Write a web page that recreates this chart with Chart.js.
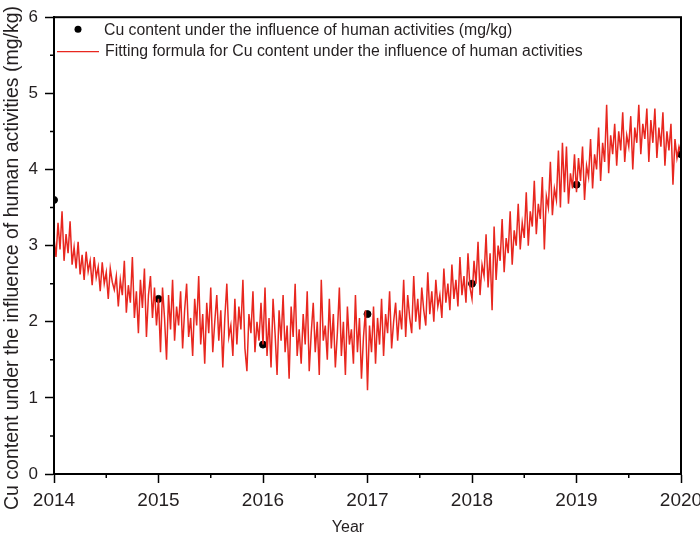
<!DOCTYPE html>
<html>
<head>
<meta charset="utf-8">
<script src="https://cdn.jsdelivr.net/npm/chart.js@4.4.0/dist/chart.umd.min.js"></script>
<style>
  body { margin: 0; background: #fff; }
</style>
</head>
<body>
<canvas id="cuChart" width="700" height="535"></canvas>
<script>
// measured points (one per year)
const dotYears = [2014, 2015, 2016, 2017, 2018, 2019, 2020];
const dotValues = [3.6, 2.3, 1.7, 2.1, 2.5, 3.8, 4.2];

// fitted curve (52 per year)
const fit2014 = [
  3.10, 2.85, 3.30, 2.95, 3.45, 2.80, 3.15, 2.90, 3.32, 2.75,
  2.98, 2.70, 3.05, 2.62, 2.88, 2.55, 2.92, 2.66, 2.80, 2.48,
  2.85, 2.58, 2.72, 2.40, 2.78, 2.50, 2.65, 2.30, 2.70, 2.52,
  2.42, 2.60, 2.20, 2.55, 2.35, 2.80, 2.12, 2.48, 2.25, 2.85,
  2.05, 2.40, 1.85, 2.55, 2.18, 2.70, 1.80, 2.35, 2.60, 2.05,
  2.45, 1.95
];
const fit2015 = [
  2.30, 1.60, 2.45, 2.05, 1.50, 2.35, 1.90, 2.55, 1.75, 2.20,
  1.95, 2.40, 1.65, 2.15, 2.50, 1.80, 2.05, 1.55, 2.30, 1.95,
  2.60, 1.70, 2.10, 1.45, 2.25, 1.85, 2.45, 1.60, 2.00, 2.35,
  1.75, 2.15, 1.40, 2.05, 2.50, 1.80, 1.95, 1.55, 2.30, 1.70,
  2.20, 1.90, 2.55, 1.65, 1.35, 2.10, 1.85, 2.40, 1.60, 2.00,
  1.75, 2.25
];
const fit2016 = [
  1.70, 2.45, 1.55, 2.05, 1.40, 2.30, 1.85, 1.30, 2.15, 1.75,
  2.35, 1.60, 1.95, 1.25, 2.20, 1.80, 2.50, 1.55, 1.90, 1.45,
  2.10, 1.70, 2.40, 1.35, 1.85, 2.25, 1.60, 2.00, 1.30, 2.55,
  1.75, 1.95, 1.50, 2.30, 1.65, 2.10, 1.40, 1.85, 2.45, 1.55,
  2.00, 1.30, 2.20, 1.70, 1.90, 1.45, 2.35, 1.60, 2.05, 1.25,
  1.80, 2.15
];
const fit2017 = [
  1.10, 1.95, 1.60, 2.20, 1.45, 2.05, 1.70, 2.30, 1.55, 2.10,
  1.85, 2.40, 1.65, 2.00, 2.25, 1.75, 2.15, 1.90, 2.55, 1.80,
  2.35, 2.05, 1.85, 2.60, 2.00, 2.30, 1.90, 2.45, 2.15, 1.95,
  2.65, 2.10, 2.40, 2.00, 2.55, 2.20, 2.35, 2.05, 2.70, 2.25,
  2.50, 2.15, 2.75, 2.30, 2.55, 2.20, 2.85, 2.35, 2.60, 2.25,
  2.90, 2.45
];
const fit2018 = [
  2.30, 2.80, 2.50, 3.05, 2.35, 2.75, 2.60, 3.15, 2.45, 2.90,
  2.15, 3.25, 2.55, 3.00, 2.80, 3.35, 2.65, 3.10, 2.90, 3.45,
  2.75, 3.20, 3.00, 3.55, 2.95, 3.30, 3.10, 3.70, 3.00, 3.45,
  3.25, 3.85, 3.15, 3.55, 3.35, 3.90, 2.95, 3.65, 3.50, 4.10,
  3.40, 3.75, 3.60, 4.25, 3.50, 4.35, 3.70, 4.30, 3.55, 3.95,
  3.75, 4.20
];
const fit2019 = [
  3.70, 4.15, 3.85, 4.30, 3.60, 4.05, 3.90, 4.40, 3.75, 4.20,
  4.00, 4.55, 3.85, 4.35, 4.10, 4.85, 3.95, 4.45, 4.20, 4.60,
  4.05, 4.50, 4.25, 4.75, 4.10, 4.45, 4.30, 4.70, 4.00, 4.55,
  4.35, 4.85, 4.20, 4.60, 4.40, 4.80, 4.10, 4.65, 4.35, 4.80,
  4.15, 4.55, 4.30, 4.75, 4.05, 4.50, 4.25, 4.60, 3.80, 4.40,
  4.15, 4.30
];
const fitEnd = [4.20];

const yTickMax = 6;
const xTickMin = 2014;
const xTickMax = 2020;

const fitValues = [].concat(fit2014, fit2015, fit2016, fit2017, fit2018, fit2019, fitEnd);
const fitPoints = fitValues.map((v, i) => ({ x: xTickMin + i / 52, y: v }));
const dotPoints = dotYears.map((yr, i) => ({ x: yr, y: dotValues[i] }));

const red = "#e8271f";
const txt = "#231f20";
const fontFamily = "'Liberation Sans', Arial, sans-serif";

Chart.defaults.font.family = fontFamily;
Chart.defaults.color = txt;

// box around the plot, short minor ticks, axis titles and the legend inside the plot
const framePlugin = {
  id: "frame",
  afterDraw(chart) {
    const { ctx, chartArea: a, scales } = chart;
    ctx.save();
    ctx.strokeStyle = "#000";
    ctx.lineWidth = 2;
    ctx.strokeRect(a.left, a.top, a.right - a.left, a.bottom - a.top);

    // minor ticks
    ctx.lineWidth = 1.5;
    ctx.beginPath();
    for (let v = xTickMin + 0.5; v < xTickMax; v += 1) {
      const px = scales.x.getPixelForValue(v);
      ctx.moveTo(px, a.bottom);
      ctx.lineTo(px, a.bottom + 4);
    }
    for (let v = 0.5; v < yTickMax; v += 1) {
      const py = scales.y.getPixelForValue(v);
      ctx.moveTo(a.left, py);
      ctx.lineTo(a.left - 4, py);
    }
    ctx.stroke();

    // axis titles
    ctx.fillStyle = txt;
    ctx.textAlign = "center";
    ctx.textBaseline = "middle";
    ctx.font = "16px " + fontFamily;
    ctx.fillText("Year", 348, 528);
    ctx.save();
    ctx.translate(13, 258);
    ctx.rotate(-Math.PI / 2);
    ctx.font = "19.5px " + fontFamily;
    ctx.fillText("Cu content under the influence of human activities (mg/kg)", 0, 0);
    ctx.restore();

    // legend
    ctx.textAlign = "left";
    ctx.font = "15.8px " + fontFamily;
    ctx.fillStyle = "#000";
    ctx.beginPath();
    ctx.arc(a.left + 24, a.top + 12, 3.5, 0, Math.PI * 2);
    ctx.fill();
    ctx.fillStyle = txt;
    ctx.fillText("Cu content under the influence of human activities (mg/kg)", a.left + 50, a.top + 13);

    ctx.strokeStyle = red;
    ctx.lineWidth = 1.2;
    ctx.beginPath();
    ctx.moveTo(a.left + 3, a.top + 34.5);
    ctx.lineTo(a.left + 45, a.top + 34.5);
    ctx.stroke();
    ctx.fillText("Fitting formula for Cu content under the influence of human activities", a.left + 51, a.top + 34);
    ctx.restore();
  },
};

const ctx = document.getElementById("cuChart").getContext("2d");
const cuChart = new Chart(ctx, {
  type: "scatter",
  data: {
    datasets: [
      {
        label: "Cu content under the influence of human activities (mg/kg)",
        data: dotPoints,
        backgroundColor: "#000",
        borderColor: "#000",
        pointRadius: 3.5,
        order: 1,
      },
      {
        type: "line",
        label: "Fitting formula for Cu content under the influence of human activities",
        data: fitPoints,
        borderColor: red,
        borderWidth: 1.5,
        pointRadius: 0,
        tension: 0,
        clip: 0,
        order: 0,
      },
    ],
  },
  options: {
    responsive: false,
    animation: false,
    layout: { padding: { top: 13, right: 0, left: 0, bottom: 0 } },
    plugins: {
      legend: { display: false },
      tooltip: { enabled: false },
    },
    scales: {
      x: {
        type: "linear",
        min: xTickMin,
        max: xTickMax,
        afterFit: (scale) => {
          scale.height = 61;
          scale.paddingRight = 19;
          scale.paddingLeft = 0;
        },
        border: { color: "#000", width: 2 },
        grid: {
          drawOnChartArea: false,
          tickLength: 9,
          tickWidth: 1.5,
          tickColor: (c) => (Number.isInteger(c.tick.value) ? "#000" : "rgba(0,0,0,0)"),
        },
        ticks: {
          stepSize: 0.5,
          autoSkip: false,
          maxRotation: 0,
          padding: 6,
          font: { size: 19 },
          callback: (v) => (Number.isInteger(v) ? String(v) : ""),
        },
      },
      y: {
        min: 0,
        max: yTickMax,
        afterFit: (scale) => { scale.width = 54; },
        border: { color: "#000", width: 2 },
        grid: {
          drawOnChartArea: false,
          tickLength: 9,
          tickWidth: 1.5,
          tickColor: (c) => (Number.isInteger(c.tick.value) ? "#000" : "rgba(0,0,0,0)"),
        },
        ticks: {
          stepSize: 0.5,
          padding: 7,
          font: { size: 17 },
          callback: (v) => (Number.isInteger(v) ? String(v) : ""),
        },
      },
    },
  },
  plugins: [framePlugin],
});
</script>
</body>
</html>
